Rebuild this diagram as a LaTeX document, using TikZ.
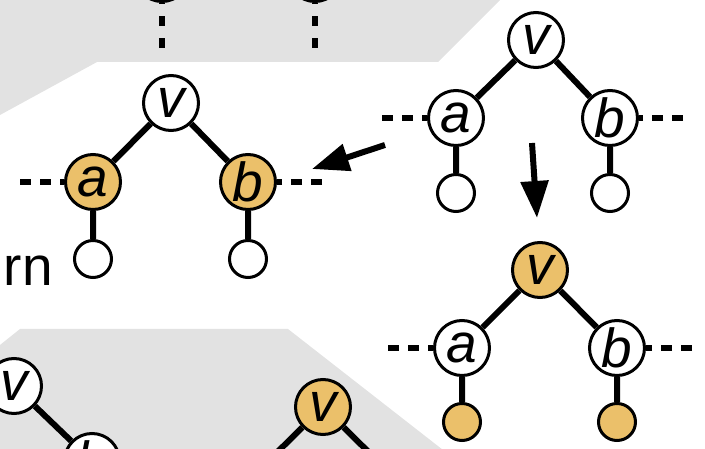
\documentclass[tikz,border=0pt]{standalone}
\usepackage{fontspec}
\setmainfont{Liberation Sans}
\usetikzlibrary{arrows.meta}
\usetikzlibrary{backgrounds}

\definecolor{treeorange}{RGB}{235,192,106}
\definecolor{panelgray}{RGB}{226,226,226}

\tikzset{
  vert/.style={circle,draw,line width=3pt,fill=white,minimum size=55pt,inner sep=0pt,
    font=\fontsize{55}{60}\selectfont\itshape},
  hit/.style={fill=treeorange},
  leaf/.style={circle,draw,line width=3pt,fill=white,minimum size=37pt,inner sep=0pt},
  tedge/.style={line width=6pt},
  tdash/.style={line width=6pt,dash pattern=on 11pt off 9pt},
  movearrow/.style={line width=6pt,-{Triangle[length=37pt,width=27pt]}}
}

\begin{document}
\begin{tikzpicture}[x=1pt,y=-1pt]
    \useasboundingbox (0,0) rectangle (705,449);

    % top panel, only the lower end shows
    \node[vert,hit] (tl) at (162,-26) {};
    \node[vert,hit] (tr) at (315,-26) {};
    \coordinate (tlend) at (162,48);
    \coordinate (trend) at (315,48);

    % left tree, a and b marked
    \node[vert] (lv) at (171,103) {v};
    \node[vert,hit] (la) at (93,182) {a};
    \node[vert,hit] (lb) at (248,182) {b};
    \node[leaf] (lal) at (93,259) {};
    \node[leaf] (lbl) at (248,259) {};
    \coordinate (laend) at (20,182);
    \coordinate (lbend) at (322,182);

    % right tree, before
    \node[vert] (rv) at (536,40) {v};
    \node[vert] (ra) at (456,118) {a};
    \node[vert] (rb) at (610,118) {b};
    \node[leaf] (ral) at (456,193) {};
    \node[leaf] (rbl) at (610,193) {};
    \coordinate (raend) at (382,118);
    \coordinate (rbend) at (683,118);

    % right tree, after
    \node[vert,hit] (sv) at (540,270) {v};
    \node[vert] (sa) at (462,348) {a};
    \node[vert] (sb) at (617,348) {b};
    \node[leaf,hit] (sal) at (462,422) {};
    \node[leaf,hit] (sbl) at (617,422) {};
    \coordinate (saend) at (388,348);
    \coordinate (sbend) at (692,348);

    % bottom panel
    \node[vert] (bv) at (14,386) {v};
    \node[vert] (bb) at (92,461) {b};
    \node[vert,hit] (bw) at (323,407) {v};
    \coordinate (bwl) at (245,484);
    \coordinate (bwr) at (401,484);

    \node[font=\fontsize{55}{60}\selectfont,anchor=base east,inner sep=0pt] (rn) at (53,286) {rn};

    % arrows
    \coordinate (lfts) at (385,145);
    \coordinate (lfte) at (312,169);
    \coordinate (dwns) at (532,143);
    \coordinate (dwne) at (537,218);
    \draw[movearrow] (lfts) -- (lfte);
    \draw[movearrow] (dwns) -- (dwne);

    \begin{pgfonlayer}{background}
    \fill[panelgray] (0,-5) -- (505,-5) -- (438,62) -- (97,62) -- (0,115) -- cycle;
    \fill[panelgray] (0,345) -- (20,329) -- (288,329) -- (452,457) -- (0,457) -- cycle;

    \draw[tedge] (lv) -- (la) (lv) -- (lb) (la) -- (lal) (lb) -- (lbl);
    \draw[tedge] (rv) -- (ra) (rv) -- (rb) (ra) -- (ral) (rb) -- (rbl);
    \draw[tedge] (sv) -- (sa) (sv) -- (sb) (sa) -- (sal) (sb) -- (sbl);
    \draw[tedge] (bv) -- (bb) (bw) -- (bwl) (bw) -- (bwr);

    \draw[tdash] (laend) -- (la) (lbend) -- (lb);
    \draw[tdash] (raend) -- (ra) (rbend) -- (rb);
    \draw[tdash] (saend) -- (sa) (sbend) -- (sb);
    \draw[tdash,dash pattern=on 10pt off 12pt] (tlend) -- (tl) (trend) -- (tr);
    \end{pgfonlayer}
\end{tikzpicture}
\end{document}
